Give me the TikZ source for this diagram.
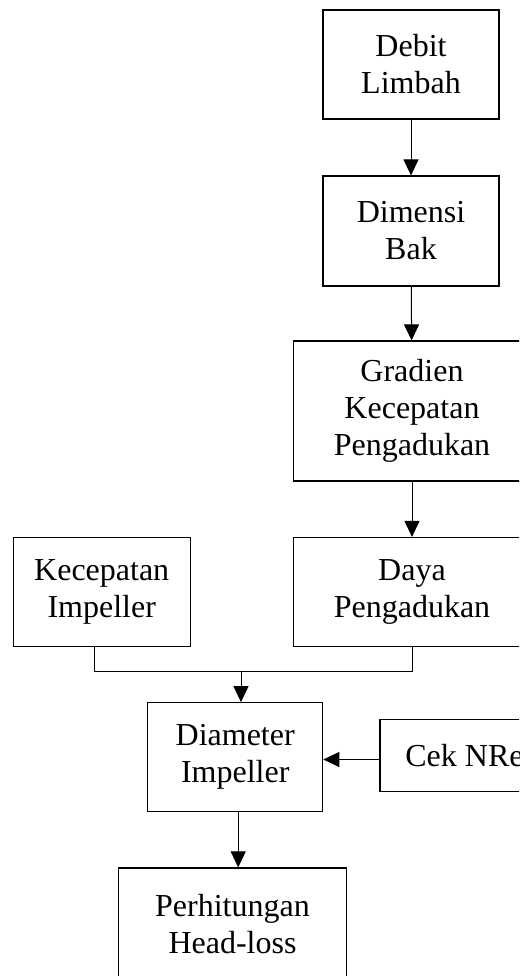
\documentclass[tikz,border=0pt]{standalone}
\usepackage{fontspec}
\setmainfont{Liberation Serif}
\usetikzlibrary{arrows.meta}

\begin{document}
\begin{tikzpicture}[x=1pt, y=-1pt,
    box/.style={draw, line width=1.2pt, align=center, inner sep=0pt, font=\fontsize{32}{37}\selectfont},
    arr/.style={-{Triangle[length=16pt, width=15pt]}, line width=1pt}
  ]
  \useasboundingbox (0,0) rectangle (519,976);
  \clip (0,0) rectangle (519,976);

  \node[box, minimum width=176pt, minimum height=109pt] (debit) at (411,64.5) {Debit\\Limbah};
  \node[box, minimum width=176pt, minimum height=110pt] (dimensi) at (411,231) {Dimensi\\Bak};
  \node[box, minimum width=237pt, minimum height=140pt] (gradien) at (412,411) {Gradien\\Kecepatan\\Pengadukan};
  \node[box, minimum width=237pt, minimum height=109pt] (daya) at (412,592) {Daya\\Pengadukan};
  \node[box, minimum width=177pt, minimum height=109pt] (kecepatan) at (101.7,592) {Kecepatan\\Impeller};
  \node[box, minimum width=175pt, minimum height=109pt] (diameter) at (235.2,757.2) {Diameter\\Impeller};
  \node[box, minimum width=169pt, minimum height=72pt] (ceknre) at (464.5,755.5) {Cek NRe};
  \node[box, minimum width=228pt, minimum height=112pt] (headloss) at (232.5,924) {Perhitungan\\Head-loss};

  \coordinate (join) at (241,671.7);

  \draw[arr] (debit) -- (dimensi);
  \draw[arr] (dimensi) -- (gradien);
  \draw[arr] (gradien) -- (daya);
  \draw[line width=1pt] ([xshift=-7pt]kecepatan.south) |- (join) -| (daya.south);
  \draw[arr] (join) -- (join |- diameter.north);
  \draw[arr] ([yshift=-4pt]ceknre.west) -- ([yshift=-4pt]ceknre.west -| diameter.east);
  \draw[arr] ([xshift=3pt]diameter.south) -- ([xshift=3pt]diameter.south |- headloss.north);
\end{tikzpicture}
\end{document}
